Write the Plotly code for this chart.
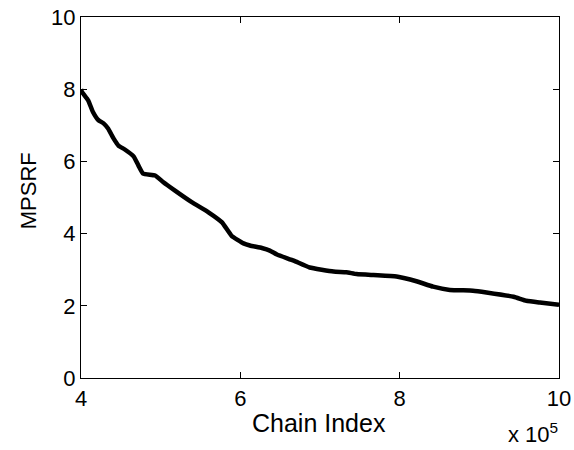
import plotly.graph_objects as go

# Chain index (in units of 1e5) and the multivariate PSRF at that point
chain_index = [4.00, 4.01, 4.09, 4.15, 4.22, 4.28, 4.34, 4.41, 4.47, 4.55, 4.66,
               4.72, 4.78, 4.93, 5.03, 5.18, 5.39, 5.60, 5.77, 5.89, 6.04,
               6.12, 6.27, 6.37, 6.46, 6.67, 6.87, 7.17, 7.33, 7.46, 7.67, 7.96,
               8.21, 8.42, 8.63, 8.92, 9.09, 9.43, 9.59, 9.76, 10.00]
mpsrf = [8.00, 7.93, 7.69, 7.37, 7.14, 7.06, 6.91, 6.63, 6.44, 6.33, 6.14,
         5.89, 5.66, 5.61, 5.43, 5.19, 4.87, 4.59, 4.31, 3.94, 3.73,
         3.67, 3.60, 3.53, 3.42, 3.25, 3.06, 2.95, 2.93, 2.88, 2.85, 2.81,
         2.68, 2.53, 2.44, 2.42, 2.37, 2.25, 2.14, 2.09, 2.03]

x_ticks = [4, 6, 8, 10]
y_ticks = [0, 2, 4, 6, 8, 10]

FONT = "Liberation Sans, Arial, Helvetica, sans-serif"
TICK_SIZE = 22

fig = go.Figure()
fig.add_trace(go.Scatter(
    x=chain_index, y=mpsrf, mode="lines",
    line=dict(color="black", width=4.5, shape="spline", smoothing=0.4),
    showlegend=False,
))

axis_common = dict(
    showline=True, linecolor="black", linewidth=1.3, mirror="ticks",
    ticks="inside", ticklen=6, tickwidth=1, tickcolor="black",
    showgrid=False, zeroline=False, automargin=False,
    tickfont=dict(family=FONT, size=TICK_SIZE, color="black"),
)

fig.update_layout(
    width=574, height=450,
    margin=dict(l=81, r=15, t=17, b=72),
    paper_bgcolor="white", plot_bgcolor="white",
    font=dict(family=FONT, size=TICK_SIZE, color="black"),
    xaxis=dict(range=[4, 10], tickvals=x_ticks, ticktext=[str(v) for v in x_ticks],
               **axis_common),
    yaxis=dict(range=[0, 10], tickvals=y_ticks, ticktext=[str(v) for v in y_ticks],
               **axis_common),
    annotations=[
        # x-axis label
        dict(text="Chain Index", xref="paper", yref="paper",
             x=0.497, y=-0.124, xanchor="center", yanchor="middle", showarrow=False,
             font=dict(family=FONT, size=25, color="black")),
        # y-axis label
        dict(text="MPSRF", xref="paper", yref="paper", textangle=-90,
             x=-0.111, y=0.52, xanchor="center", yanchor="middle", showarrow=False,
             font=dict(family=FONT, size=22, color="black")),
        # exponent of the x axis
        dict(text="x 10<sup>5</sup>", xref="paper", yref="paper",
             x=1.003, y=-0.108, xanchor="right", yanchor="top", showarrow=False,
             font=dict(family=FONT, size=TICK_SIZE, color="black")),
    ],
)

fig.write_html("out.html")
